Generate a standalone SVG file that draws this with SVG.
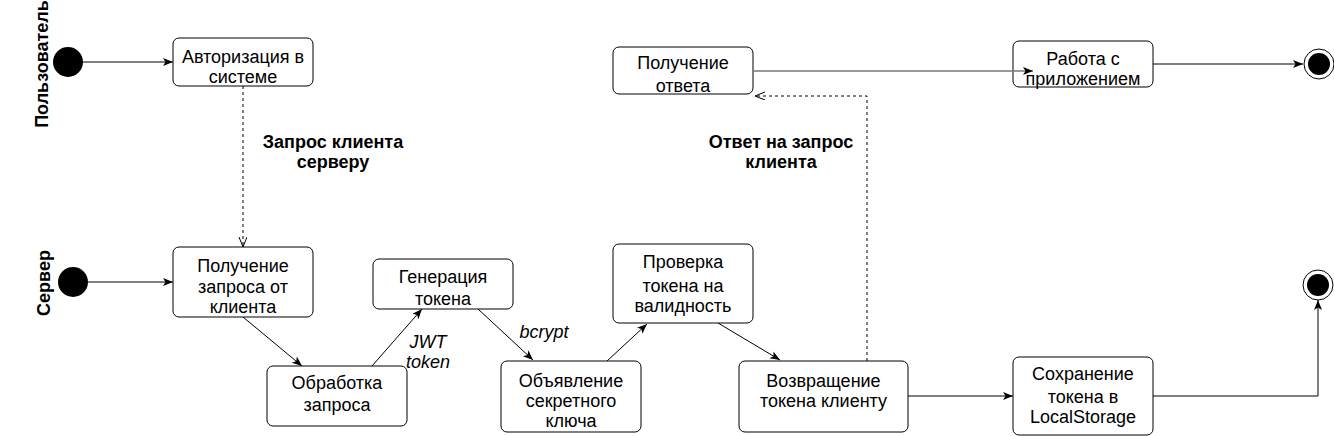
<svg xmlns="http://www.w3.org/2000/svg" width="1334" height="436" viewBox="0 0 1334 436">
<style>
.box{fill:#fff;stroke:#000;stroke-width:1}
.t{font-family:"Liberation Sans",Arial,sans-serif;font-size:18px;fill:#000;text-anchor:middle}
.b{font-family:"Liberation Sans",Arial,sans-serif;font-size:18px;font-weight:bold;fill:#000;text-anchor:middle}
.i{font-family:"Liberation Sans",Arial,sans-serif;font-size:18px;font-style:italic;fill:#000;text-anchor:middle}
.e{fill:none;stroke:#000;stroke-width:1;marker-end:url(#arr)}
.d{fill:none;stroke:#000;stroke-width:1;stroke-dasharray:3 3;marker-end:url(#open)}
</style>
<defs>
<marker id="arr" markerUnits="userSpaceOnUse" markerWidth="12" markerHeight="10" refX="10" refY="4" orient="auto">
<path d="M0,0 L10,4 L0,8 L2.5,4 Z" fill="#000"/>
</marker>
<marker id="open" markerUnits="userSpaceOnUse" markerWidth="12" markerHeight="10" refX="10" refY="4" orient="auto">
<path d="M0,0 L10,4 L0,8" fill="none" stroke="#000" stroke-width="1"/>
</marker>
</defs>
<rect width="1334" height="436" fill="#fff"/>

<g id="lanes">
<text class="b" transform="translate(48,64) rotate(-90)">Пользователь</text>
<text class="b" transform="translate(50,283) rotate(-90)">Сервер</text>
</g>

<g id="connectors">
<path class="e" d="M83,62 L173,62"/>
<path class="d" d="M243,86 L243,247"/>
<path class="e" d="M88,282 L173,282"/>
<path class="e" d="M243,317 L302,366"/>
<path class="e" d="M372,366 L422,309"/>
<path class="e" d="M478,309 L533,360"/>
<path class="e" d="M607,361 L647,324"/>
<path class="e" d="M718,323 L780,360"/>
<path class="e" d="M908,396 L1013,396"/>
<path class="e" d="M1153,396 L1318,396 L1318,300"/>
<path class="d" d="M867,361 L867,96 L755,96"/>
<path class="e" d="M1153,64 L1303,64"/>
<g id="edge-labels">
<text class="b" x="333" y="148">Запрос клиента</text>
<text class="b" x="333" y="168">серверу</text>
<text class="b" x="781" y="148">Ответ на запрос</text>
<text class="b" x="781" y="168">клиента</text>
<text class="i" x="428" y="348">JWT</text>
<text class="i" x="428" y="368">token</text>
<text class="i" x="544" y="338">bcrypt</text>
</g>
</g>

<g id="start-user"><circle cx="68" cy="62" r="15" fill="#000"/></g>
<g id="start-server"><circle cx="73" cy="282" r="15" fill="#000"/></g>

<g id="auth">
<rect class="box" x="173" y="38" width="140" height="48" rx="6"/>
<text class="t" x="243" y="63">Авторизация в</text>
<text class="t" x="243" y="83">системе</text>
</g>

<g id="recv-request">
<rect class="box" x="173" y="247" width="140" height="70" rx="6"/>
<text class="t" x="243" y="272">Получение</text>
<text class="t" x="243" y="293">запроса от</text>
<text class="t" x="243" y="313">клиента</text>
</g>

<g id="process">
<rect class="box" x="267" y="366" width="140" height="60" rx="6"/>
<text class="t" x="337" y="389">Обработка</text>
<text class="t" x="337" y="411">запроса</text>
</g>

<g id="generate">
<rect class="box" x="373" y="259" width="140" height="50" rx="6"/>
<text class="t" x="443" y="283">Генерация</text>
<text class="t" x="443" y="305">токена</text>
</g>

<g id="secret">
<rect class="box" x="501" y="361" width="140" height="71" rx="6"/>
<text class="t" x="571" y="387">Объявление</text>
<text class="t" x="571" y="407">секретного</text>
<text class="t" x="571" y="427">ключа</text>
</g>

<g id="verify">
<rect class="box" x="613" y="244" width="140" height="79" rx="6"/>
<text class="t" x="683" y="268">Проверка</text>
<text class="t" x="683" y="292">токена на</text>
<text class="t" x="683" y="312">валидность</text>
</g>

<g id="return">
<rect class="box" x="739" y="361" width="169" height="71" rx="6"/>
<text class="t" x="823.5" y="387">Возвращение</text>
<text class="t" x="823.5" y="407">токена клиенту</text>
</g>

<g id="save">
<rect class="box" x="1013" y="357" width="140" height="78" rx="6"/>
<text class="t" x="1083" y="380">Сохранение</text>
<text class="t" x="1083" y="403">токена в</text>
<text class="t" x="1083" y="423">LocalStorage</text>
</g>

<g id="get-response">
<rect class="box" x="613" y="47" width="140" height="47" rx="6"/>
<text class="t" x="683" y="69">Получение</text>
<text class="t" x="683" y="92">ответа</text>
</g>

<g id="work">
<rect class="box" x="1013" y="41" width="140" height="46" rx="6"/>
<text class="t" x="1083" y="65">Работа с</text>
<text class="t" x="1083" y="85">приложением</text>
</g>

<g id="edge-resp-work"><path d="M753,71 L1033,71" fill="none" stroke="#777" stroke-width="1.5" marker-end="url(#arr)"/></g>

<g id="end-user"><circle cx="1319" cy="64" r="15" fill="#fff" stroke="#000" stroke-width="1"/><circle cx="1319" cy="64" r="11" fill="#000"/></g>
<g id="end-server"><circle cx="1318" cy="285" r="15" fill="#fff" stroke="#000" stroke-width="1"/><circle cx="1318" cy="285" r="11" fill="#000"/></g>
</svg>
